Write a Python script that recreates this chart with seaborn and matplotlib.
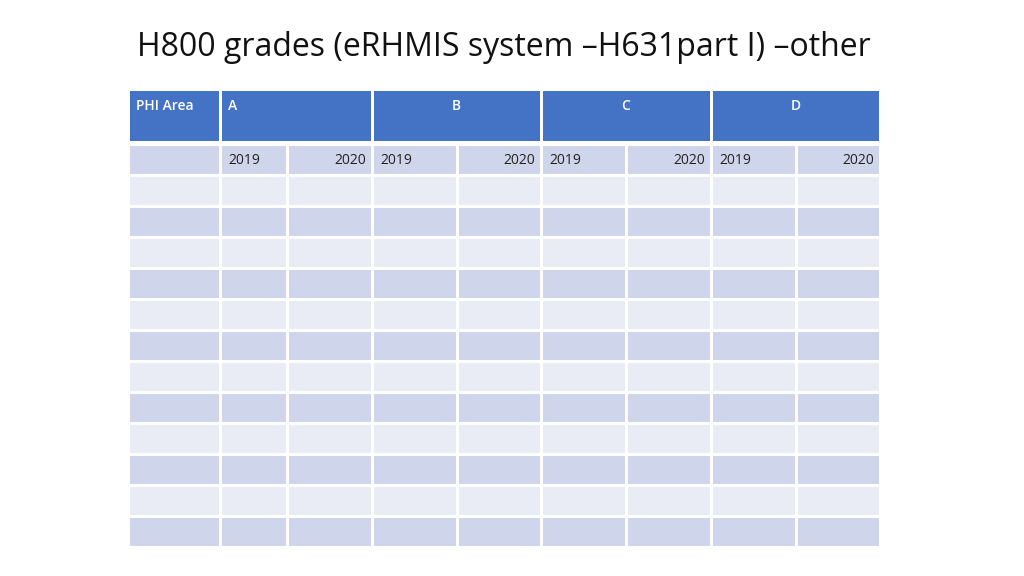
import numpy as np
import matplotlib.pyplot as plt
from matplotlib.colors import ListedColormap
import seaborn as sns

title = "H800 grades (eRHMIS system \u2013H631part I) \u2013other"
groups = ["A", "B", "C", "D"]
years = ["2019", "2020"]
n_body_rows = 12

sns.set_theme(style="white")
plt.rcParams['font.family'] = ['Open Sans', 'DejaVu Sans']

# layout in pixel coordinates
col_edges = [128, 220, 287, 372, 457, 541, 626, 711, 796, 880]
head_top, head_bot = 89, 142
row_edges = [144] + [175 + 31 * i for i in range(n_body_rows + 1)]

fig = plt.figure(figsize=(10.24, 5.76), dpi=100)
ax = fig.add_axes([0, 0, 1, 1])
ax.set_xlim(0, 1024)
ax.set_ylim(576, 0)
ax.axis("off")

# body cells: year row dark, then alternating light/dark
n_rows = len(row_edges) - 1
shade = np.array([[i % 2 for _ in range(len(col_edges) - 1)] for i in range(n_rows)])
cmap = ListedColormap(["#CFD5EA", "#E9EBF5"])
ax.pcolormesh(col_edges, row_edges, shade, cmap=cmap, edgecolors="white", linewidth=0.8)

# header cells (PHI Area + merged group cells)
head_edges = [col_edges[0], col_edges[1], col_edges[3], col_edges[5], col_edges[7], col_edges[9]]
ax.pcolormesh(head_edges, [head_top, head_bot], np.zeros((1, 5)),
              cmap=ListedColormap(["#4472C4"]), edgecolors="white", linewidth=0.8)

ax.text(136, 106, "PHI Area", color="white", fontsize=10, va="center", ha="left",
        fontweight="semibold")
for i, g in enumerate(groups):
    x0, x1 = head_edges[i + 1], head_edges[i + 2]
    if i == 0:
        ax.text(x0 + 8, 106, g, color="white", fontsize=10, va="center", ha="left",
                fontweight="semibold")
    else:
        ax.text((x0 + x1) / 2, 106, g, color="white", fontsize=10, va="center", ha="center",
                fontweight="semibold")

for i in range(len(groups)):
    c0 = 1 + 2 * i
    ax.text(col_edges[c0] + 8, 160, years[0], color="#222222", fontsize=10, va="center", ha="left")
    ax.text(col_edges[c0 + 2] - 6, 160, years[1], color="#222222", fontsize=10, va="center", ha="right")

ax.text(137, 48, title, fontsize=23, ha="left", va="center", color="#111111")

fig.savefig("out.png", dpi=100)
